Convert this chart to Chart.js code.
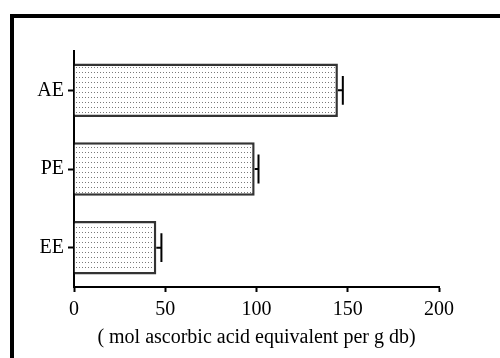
<!DOCTYPE html>
<html>
<head>
<meta charset="utf-8">
<script src="https://cdn.jsdelivr.net/npm/chart.js@4.4.1/dist/chart.umd.min.js"></script>
<style>
  html, body { margin: 0; padding: 0; background: #fff; }
  .wrap { position: relative; width: 500px; height: 358px; overflow: hidden; }
  .frame {
    position: absolute; left: 10px; top: 14px; width: 600px; height: 500px;
    border-left: 4px solid #000; border-top: 4px solid #000;
  }
  canvas { position: absolute; left: 0; top: 0; }
</style>
</head>
<body>
<div class="wrap">
  <div class="frame"></div>
  <canvas id="chart" width="500" height="358"></canvas>
</div>
<script>
const categories = ["AE", "PE", "EE"];
const values = [144.6, 99, 45.1];
const errors = [2.7, 2.1, 2.8];
const xTicks = [0, 50, 100, 150, 200];
const xTitle = "( mol ascorbic acid equivalent per g db)";

// dotted fill like the original
function dotPattern() {
  const c = document.createElement("canvas");
  c.width = 3;
  c.height = 5;
  const g = c.getContext("2d");
  g.fillStyle = "#fff";
  g.fillRect(0, 0, 3, 5);
  g.fillStyle = "#7a7a7a";
  g.fillRect(1, 2, 1, 1);
  return g.createPattern(c, "repeat");
}

const errorBars = {
  id: "errorBars",
  afterDatasetsDraw(chart) {
    const ctx = chart.ctx;
    const xs = chart.scales.x;
    const meta = chart.getDatasetMeta(0);
    ctx.save();
    ctx.strokeStyle = "#000";
    ctx.lineWidth = 2;
    meta.data.forEach((bar, i) => {
      const x0 = xs.getPixelForValue(values[i]);
      const x1 = xs.getPixelForValue(values[i] + errors[i]);
      const half = bar.height * 0.27;
      ctx.beginPath();
      ctx.moveTo(x0, bar.y);
      ctx.lineTo(x1, bar.y);
      ctx.moveTo(x1, bar.y - half);
      ctx.lineTo(x1, bar.y + half);
      ctx.stroke();
    });
    ctx.restore();
  }
};

const font = { family: "'Liberation Serif', 'Times New Roman', serif", size: 20 };

new Chart(document.getElementById("chart"), {
  type: "bar",
  data: {
    labels: categories,
    datasets: [{
      data: values,
      backgroundColor: dotPattern(),
      borderColor: "#333",
      borderWidth: 2.5,
      barPercentage: 0.68,
      categoryPercentage: 1
    }]
  },
  options: {
    indexAxis: "y",
    responsive: false,
    animation: false,
    layout: { padding: { top: 51, right: 61, left: 0, bottom: 0 } },
    plugins: {
      legend: { display: false },
      tooltip: { enabled: false }
    },
    scales: {
      x: {
        min: 0,
        max: 200,
        afterBuildTicks: (scale) => { scale.ticks = xTicks.map(v => ({ value: v })); },
        afterFit: (scale) => { scale.height = 71; },
        grid: { drawOnChartArea: false, tickLength: 5, tickColor: "#000", tickWidth: 2 },
        border: { color: "#000", width: 2 },
        ticks: { color: "#000", font: font, padding: 6, maxRotation: 0 },
        title: { display: true, text: xTitle, color: "#000", font: font, padding: { top: 0, bottom: 8 } }
      },
      y: {
        afterFit: (scale) => { scale.width = 74; },
        grid: { offset: false, drawOnChartArea: false, tickLength: 6, tickColor: "#000", tickWidth: 2 },
        border: { color: "#000", width: 2 },
        ticks: { color: "#000", font: font, padding: 4 }
      }
    }
  },
  plugins: [errorBars]
});
</script>
</body>
</html>
